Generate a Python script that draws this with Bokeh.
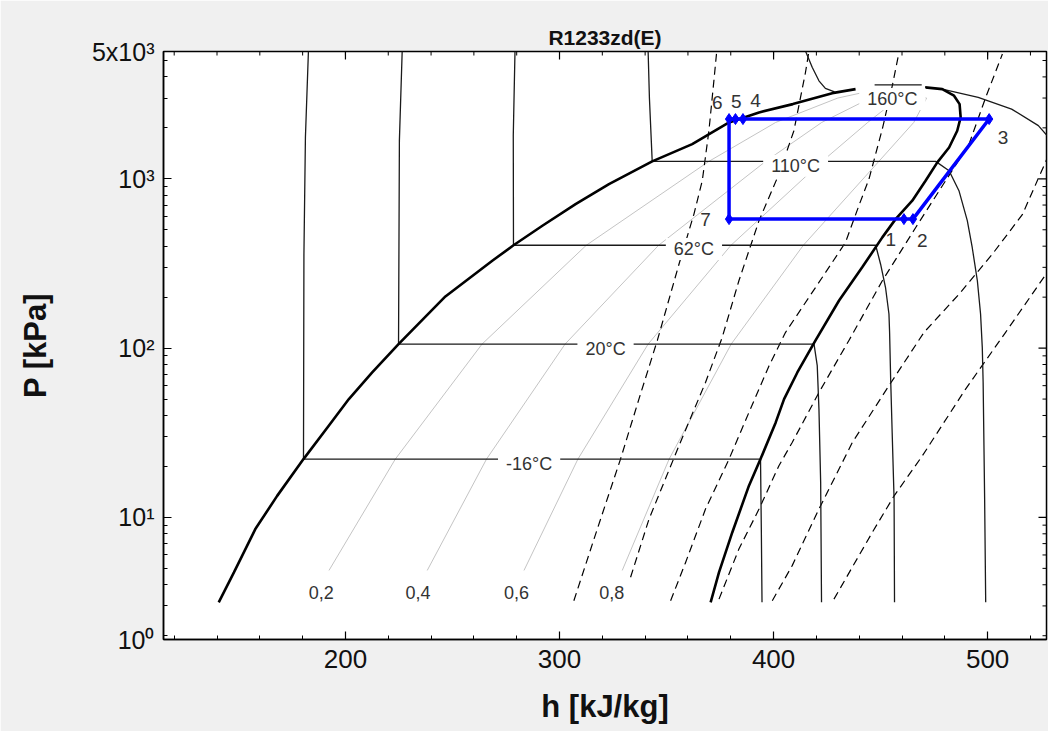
import math
from bokeh.plotting import figure
from bokeh.models import FixedTicker
from bokeh.core.properties import value
from bokeh.embed import file_html
from bokeh.resources import INLINE

# ---------------- data (h in kJ/kg, P in kPa) ----------------
sat_liq_h = [140.8, 147.9, 157.9, 168.1, 180.4, 192.2, 201.6, 212.5, 224.8, 246.7, 268.6, 278.5,
             292.0, 307.5, 323.1, 343.3, 362.0, 379.2, 393.2, 409.0, 427.4, 438.3]
sat_liq_P = [3.15, 4.73, 8.53, 13.4, 22.1, 34.8, 50.0, 71.8, 105.6, 202, 328, 405,
             528, 709, 931, 1268, 1604, 2153, 2467, 2762, 3207, 3388]
sat_vap_h = [470.8, 478.8, 484.3, 486.9, 487.4, 485.8, 482.0, 476.5, 471.0, 464.8, 457.0,
             450.8, 441.4, 430.6, 419.6, 411.1, 404.9, 401.0, 393.9, 388.5, 380.7, 374.5, 370.6]
sat_vap_P = [3467, 3388, 3096, 2762, 2307, 1924, 1532, 1250, 975, 743, 578,
             451, 300, 191, 111, 71.8, 50, 36.4, 22.1, 15.4, 8.15, 4.73, 3.15]

# isotherms
iso_m16_h = [182.7, 181.3, 180.6, 180.4, 393.9, 394.3, 394.6]
iso_m16_P = [5650, 1758, 357, 22.1, 22.1, 8.0, 3.15]
iso_20_h = [226.5, 225.2, 224.8, 418.9, 420.4, 421.2, 422.0, 422.4]
iso_20_P = [5650, 1686, 105.6, 105.6, 78.8, 43.6, 16.1, 3.15]
iso_62_h = [279.2, 278.4, 278.5, 447.7, 450.0, 452.3, 453.9, 454.2, 454.7, 455.4, 456.3, 456.5]
iso_62_P = [5650, 1800, 405, 405, 313, 228, 159, 124, 65.6, 31.8, 12.8, 3.15]
iso_110_h = [341.4, 342.0, 343.3, 475.7, 482.0, 486.6, 490.5, 492.8, 495.2, 496.7, 497.5, 497.9, 498.6, 499.1]
iso_110_P = [5650, 3000, 1268, 1268, 1117, 851, 566, 393, 250, 159, 101, 62.7, 12.8, 3.15]
iso_160_liq_h = [415.0, 418.1, 421.2, 424.2, 428.5]
iso_160_liq_P = [5650, 4549, 3793, 3420, 3260]
iso_160_mix_h = [447.2, 469.2]
iso_160_mix_P = [3590, 3590]
iso_160_vap_h = [478.8, 495.6, 511.2, 523.7, 529.9]
iso_160_vap_P = [3388, 3027, 2582, 2061, 1679]

# vapour quality lines
qual_P = [4.86, 22.1, 105.6, 405, 1268, 2153, 3000, 3300]
qual_02_h = [192.3, 223.3, 263.8, 312.5, 369.8, 401.0, 430.0, 445.0]
qual_04_h = [238.2, 265.9, 302.6, 346.3, 396.3, 422.5, 445.3, 448.0]
qual_06_h = [283.4, 308.6, 341.4, 380.1, 422.7, 444.0, 458.4, 450.0]
qual_08_h = [329.3, 351.2, 380.2, 413.9, 449.2, 465.5, 471.5, 452.0]
qual_labels = ["0,2", "0,4", "0,6", "0,8"]

# dashed lines (isentropes)
s1_h = [306.7, 317.6, 328.5, 337.1, 345.7, 355.8, 362.8, 366.7, 369.8, 372.1, 373.4]
s1_P = [3.22, 8.5, 22.1, 50, 111, 313, 619, 975, 1924, 3776, 5585]
s2_h = [333.2, 341.8, 355.8, 368.2, 376.0, 383.8, 393.2, 402.5, 409.5, 414.9, 416.5]
s2_P = [4.43, 9.77, 26.5, 62.7, 115.6, 250, 566, 1066, 1924, 4246, 5650]
s3_h = [351.9, 358.9, 368.2, 379.2, 388.5, 397.9, 405.6, 424.3, 433.6, 439.9, 444.6, 450.8, 455.5, 458.6]
s3_P = [3.22, 5.42, 11.2, 22.1, 41.7, 78.7, 124, 280, 421, 697, 1000, 1968, 3565, 5585]
s4_h = [374.5, 383.8, 393.2, 402.5, 408.7, 421.2, 435.2, 450.8, 458.6, 466.4, 491.3, 499.1, 506.9]
s4_P = [3.29, 6.5, 11.2, 20.2, 27.7, 54.7, 111, 250, 359, 516, 1603, 3027, 5458]
s5_h = [399.4, 408.7, 421.2, 436.8, 453.9, 470.3, 486.6, 502.2, 516.2, 528.7]
s5_P = [3.22, 5.19, 11.2, 27.7, 60, 124, 208, 359, 614, 1400]
s6_h = [428.2, 446.1, 456.3, 469.5, 489.7, 508.4, 526.9]
s6_P = [3.29, 8.15, 13.4, 23.1, 57.3, 124, 269]

# cycle states 1..7
cycle_names = ["1", "2", "3", "4", "5", "6", "7"]
cycle_h = [460.9, 465.1, 500.7, 385.7, 382.2, 379.2, 379.2]
cycle_P = [578, 578, 2254, 2254, 2254, 2254, 578]

iso_names = ["-16°C", "20°C", "62°C", "110°C", "160°C"]

# axis ticks
x_major = [200, 300, 400, 500]
x_minor = list(range(120, 530, 20))
y_decades = [10, 100, 1000]
y_minor = [m * 10 ** e for e in range(0, 4) for m in range(2, 10) if m * 10 ** e <= 5000]

# ---------------- layout / label placement ----------------
iso_label_h = [285.8, 321.5, 362.8, 410.3, 455.5]
iso_label_P = [20.7, 98.6, 385, 1194, 2958]
qual_label_h = [188.7, 233.9, 279.9, 324.4]
qual_label_P = [3.61, 3.61, 3.61, 3.61]
state_label_h = [454.7, 469.5, 507.2, 391.6, 382.6, 373.7, 368.2]
state_label_P = [440, 431, 1758, 2891, 2852, 2825, 578]

FONT = "Liberation Sans"
x_lo, x_hi = 115, 527.5
y_lo, y_hi = 1.9, 5650
y_major = [y_lo] + y_decades + [y_hi]
y_labels = {y_lo: "10\u2070", 10: "10\u00b9", 100: "10\u00b2", 1000: "10\u00b3", y_hi: "5x10\u00b3"}

p = figure(frame_width=883, frame_height=588,
           min_border_left=163, min_border_top=51, min_border_right=2, min_border_bottom=92,
           x_range=(x_lo, x_hi), y_range=(y_lo, y_hi), y_axis_type="log",
           output_backend="svg", toolbar_location=None,
           title="R1233zd(E)")
p.background_fill_color = "white"
p.border_fill_color = "#f0f0f0"
p.outline_line_color = "black"
p.outline_line_width = 1.5
p.grid.visible = False

p.title.align = "center"
p.title.text_font = FONT
p.title.text_font_size = "21px"
p.title.text_font_style = "bold"
p.title.text_color = "#111"
p.title.standoff = 6

def style_axis(ax):
    ax.axis_line_color = "black"
    ax.axis_line_width = 1.5
    ax.major_tick_in = 8
    ax.major_tick_out = 0
    ax.minor_tick_in = 4
    ax.minor_tick_out = 0
    ax.major_tick_line_color = "black"
    ax.minor_tick_line_color = "black"
    ax.major_tick_line_width = 1.2
    ax.minor_tick_line_width = 1.0

xa = p.xaxis[0]
xa.ticker = FixedTicker(ticks=x_major, minor_ticks=x_minor)
style_axis(xa)
xa.major_label_text_font = FONT
xa.major_label_text_font_size = "26px"
xa.major_label_text_color = "#111"
xa.major_label_standoff = 10
xa.axis_label = "h [kJ/kg]"
xa.axis_label_text_font = FONT
xa.axis_label_text_font_size = "31px"
xa.axis_label_text_font_style = "bold"
xa.axis_label_text_color = "#111"
xa.axis_label_standoff = 18

ya = p.yaxis[0]
ya.ticker = FixedTicker(ticks=y_major, minor_ticks=y_minor)
ya.major_label_overrides = y_labels
style_axis(ya)
ya.major_label_text_font = FONT
ya.major_label_text_font_size = "25px"
ya.major_label_text_color = "#111"
ya.major_label_standoff = 9
ya.axis_label = "P [kPa]"
ya.axis_label_text_font = FONT
ya.axis_label_text_font_size = "31px"
ya.axis_label_text_font_style = "bold"
ya.axis_label_text_color = "#111"
ya.axis_label_standoff = 36

# inward ticks on the top and right frame edges (driven by the tick lists)
p.scatter(x_major, [y_hi] * len(x_major), marker="dash", size=16, angle=math.pi / 2,
          line_color="black", line_width=1.2)
p.scatter(x_minor, [y_hi] * len(x_minor), marker="dash", size=8, angle=math.pi / 2,
          line_color="black", line_width=1.0)
p.scatter([x_hi] * len(y_decades), y_decades, marker="dash", size=16,
          line_color="black", line_width=1.2)
p.scatter([x_hi] * len(y_minor), y_minor, marker="dash", size=8,
          line_color="black", line_width=1.0)

# quality lines
for qh in [qual_02_h, qual_04_h, qual_06_h, qual_08_h]:
    p.line(qh, qual_P, line_color="#c4c4c4", line_width=1)

# dashed lines
for sh, sp in [(s1_h, s1_P), (s2_h, s2_P), (s3_h, s3_P), (s4_h, s4_P), (s5_h, s5_P), (s6_h, s6_P)]:
    p.line(sh, sp, line_color="black", line_width=1.2, line_dash="8 5")

# isotherms
for ih, ip in [(iso_m16_h, iso_m16_P), (iso_20_h, iso_20_P), (iso_62_h, iso_62_P),
               (iso_110_h, iso_110_P), (iso_160_liq_h, iso_160_liq_P),
               (iso_160_mix_h, iso_160_mix_P), (iso_160_vap_h, iso_160_vap_P)]:
    p.line(ih, ip, line_color="#1a1a1a", line_width=1.3)

# saturation dome
p.line(sat_liq_h, sat_liq_P, line_color="black", line_width=2.6)
p.line(sat_vap_h, sat_vap_P, line_color="black", line_width=2.6)

# labels on isotherms and quality lines (white boxes hide the lines beneath)
p.text(iso_label_h, iso_label_P, text=iso_names, text_font=value(FONT), text_font_size="18px",
       text_color="#333", text_align="center", text_baseline="middle",
       background_fill_color="white", padding=(8, 1))
p.text(qual_label_h, qual_label_P, text=qual_labels, text_font=value(FONT), text_font_size="18px",
       text_color="#333", text_align="center", text_baseline="middle",
       background_fill_color="white", padding=(3, 2))

# cycle
path_h = cycle_h + [cycle_h[0]]
path_P = cycle_P + [cycle_P[0]]
p.line(path_h, path_P, line_color="#0000ff", line_width=3.5)
p.scatter(cycle_h, cycle_P, marker="diamond", size=11, fill_color="#0000ff", line_color="#0000ff")
p.text(state_label_h, state_label_P, text=cycle_names, text_font=value(FONT), text_font_size="19px",
       text_color="#333", text_align="center", text_baseline="middle")

open("out.html", "w").write(file_html(p, INLINE))
